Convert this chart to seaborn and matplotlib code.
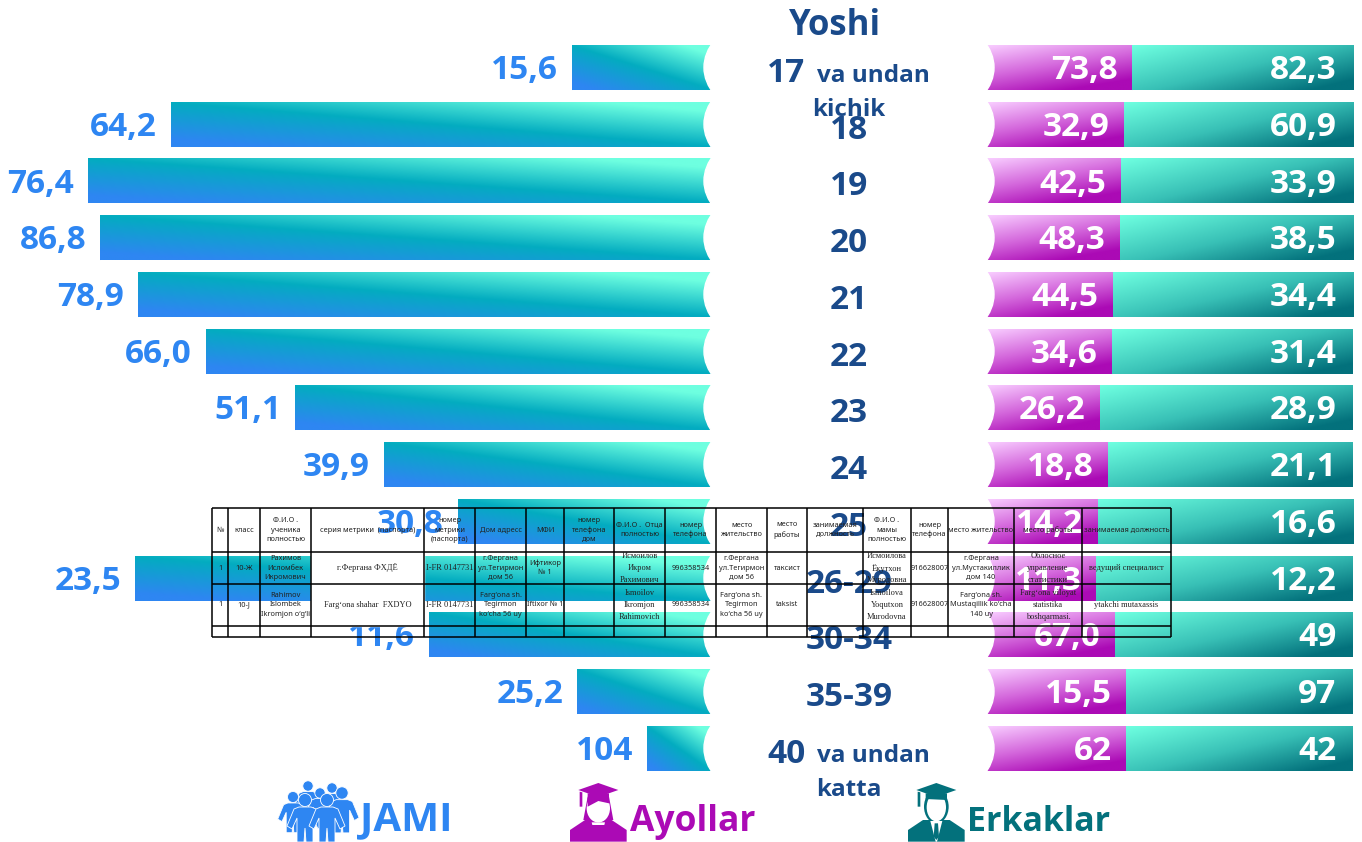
import numpy as np
import matplotlib
matplotlib.use('Agg')
from matplotlib import pyplot as plt
from matplotlib.colors import LinearSegmentedColormap
from matplotlib.patches import Ellipse, Rectangle, Polygon, Circle
import seaborn as sns

yosh = ['17', '18', '19', '20', '21', '22', '23', '24', '25', '26-29', '30-34', '35-39', '40']
jami_bar = [17.0, 65.9, 76.0, 74.5, 69.9, 61.6, 50.7, 39.9, 30.9, 70.2, 34.4, 16.3, 7.8]
jami_lbl = ['15,6', '64,2', '76,4', '86,8', '78,9', '66,0', '51,1', '39,9', '30,8', '23,5', '11,6', '25,2', '104']
ayol_bar = [39.6, 37.4, 36.6, 36.3, 34.4, 34.2, 30.9, 33.1, 30.3, 29.8, 35.0, 38.0, 38.0]
ayol_lbl = ['73,8', '32,9', '42,5', '48,3', '44,5', '34,6', '26,2', '18,8', '14,2', '11,3', '67,0', '15,5', '62']
erkak_lbl = ['82,3', '60,9', '33,9', '38,5', '34,4', '31,4', '28,9', '21,1', '16,6', '12,2', '49', '97', '42']

header = ['№', 'класс', 'Ф.И.О .\nученика\nполностью', 'серия метрики  (паспорта)', 'номер\nметрики\n(паспорта)',
          'Дом адресс', 'МФИ', 'номер\nтелефона\nдом', 'Ф.И.О .  Отца\nполностью', 'номер\nтелефона',
          'место\nжительство', 'место\nработы', 'занимаемая\nдолжность', 'Ф.И.О .\nмамы\nполностью', 'номер\nтелефона',
          'место жительство', 'место работы', 'занимаемая должность']
row_kir = ['1', '10-Ж', 'Рахимов\nИсломбек\nИкромович', 'г.Фергана ФХДЁ', 'I-FR 0147731',
           'г.Фергана\nул.Тегирмон\nдом 56', 'Ифтикор\n№ 1', '', 'Исмоилов\nИкром\nРахимович', '996358534',
           'г.Фергана\nул.Тегирмон\nдом 56', 'таксист', '', 'Исмоилова\nЁқутхон\nМуродовна', '916628007',
           'г.Фергана\nул.Мустакиллик\nдом 140', 'Облосное\nуправление\nстатистики', 'ведущий специалист']
row_lat = ['1', '10-J', 'Rahimov\nIslombek\nIkromjon o‘g‘li', 'Farg‘ona shahar  FXDYO', 'I-FR 0147731',
           'Farg‘ona sh.\nTegirmon\nko‘cha 56 uy', 'Iftixor № 1', '', 'Ismoilov\nIkromjon\nRahimovich', '996358534',
           'Farg‘ona sh.\nTegirmon\nko‘cha 56 uy', 'taksist', '', 'Ismoilova\nYoqutxon\nMurodovna', '916628007',
           'Farg‘ona sh.\nMustaqillik ko‘cha\n140 uy', 'Farg‘ona viloyat\nstatistika\nboshqarmasi.', 'ytakchi mutaxassis']
serif_cols = [3, 4, 8, 13, 16, 17]
col_x = [212, 228, 260, 311, 424, 475, 526, 564, 614, 665, 716, 767, 807, 863, 911, 948, 1014, 1082, 1171]
row_y = [508, 552, 584, 626, 637]

W, H = 1362, 842
row0, pitch, bar_h = 67.5, 56.73, 45
blue, purple, teal, navy = '#2e86f2', '#ab0ab5', '#03717c', '#1a4a8a'

sns.set_theme(style='white')
plt.rcParams['font.family'] = ['Open Sans', 'DejaVu Sans']

cm_jami = LinearSegmentedColormap.from_list('j', [(0, blue), (.08, blue), (.5, '#03acc0'), (.9, '#6effe0'), (1, '#6effe0')])
cm_ayol = LinearSegmentedColormap.from_list('a', [(0, '#f8ccff'), (.45, '#d468dc'), (.85, purple), (1, purple)])
cm_erk = LinearSegmentedColormap.from_list('e', [(0, '#6effe0'), (.5, '#38c0b6'), (.9, teal), (1, teal)])


def paint(ax, patches, cmap, flip=False, wu=.5):
    # put a tilted gradient over each bar, wu is the share of the horizontal part
    u, v = np.meshgrid(np.linspace(0, 1, 200), np.linspace(0, 1, 40))
    z = wu * u + (1 - wu) * (1 - v) if flip else wu * u + (1 - wu) * v
    for p in patches:
        x0, x1 = p.get_x(), p.get_x() + p.get_width()
        y0, y1 = p.get_y(), p.get_y() + p.get_height()
        ext = (x1, x0, y1, y0) if flip else (x0, x1, y1, y0)
        ax.imshow(z, extent=ext, cmap=cmap, vmin=0, vmax=1, aspect='auto', zorder=3, interpolation='bilinear')


fig = plt.figure(figsize=(W / 100, H / 100), dpi=100)
ax_l = fig.add_axes([0, 0, 711 / W, 1])
ax_r = fig.add_axes([987 / W, 0, 366 / W, 1])
ov = fig.add_axes([0, 0, 1, 1])

sns.barplot(x=jami_bar, y=yosh, orient='h', color=blue, width=bar_h / pitch, ax=ax_l)
paint(ax_l, list(ax_l.patches), cm_jami, flip=True)

erkak_bar = [100 - a for a in ayol_bar]
sns.barplot(x=ayol_bar, y=yosh, orient='h', color=purple, width=bar_h / pitch, ax=ax_r)
pink = list(ax_r.patches)
sns.barplot(x=erkak_bar, y=yosh, orient='h', color=teal, width=bar_h / pitch, left=ayol_bar, ax=ax_r)
green = [p for p in ax_r.patches if p not in pink]
paint(ax_r, pink, cm_ayol, wu=.35)
paint(ax_r, green, cm_erk, wu=.55)

ylim = ((H - row0) / pitch, -row0 / pitch)
ax_l.set_xlim(711 / 8.2, 0)
ax_r.set_xlim(0, 100)
for a in (ax_l, ax_r):
    a.set_ylim(*ylim)
    a.axis('off')

lab = dict(fontsize=24, fontweight='bold', va='center', ha='right', textcoords='offset points', zorder=5)
for i in range(len(yosh)):
    ax_l.annotate(jami_lbl[i], (jami_bar[i], i), xytext=(-10, -2.2), color=blue, **lab)
    ax_r.annotate(ayol_lbl[i], (ayol_bar[i], i), xytext=(-10.5, -2.2), color='white', **lab)
    ax_r.annotate(erkak_lbl[i], (100, i), xytext=(-12, -2.2), color='white', **lab)

ov.set_xlim(0, W)
ov.set_ylim(H, 0)
ov.axis('off')
ov.patch.set_alpha(0)

# white bites between the bars and the age column
for i in range(len(yosh)):
    y = row0 + pitch * i
    e = Ellipse((849, y), 290, 146, color='white', zorder=2)
    ov.add_patch(e)
    e.set_clip_path(Rectangle((690, y - 24), 320, 48, transform=ov.transData))

mid = dict(color=navy, fontweight='bold', va='center', ha='center', zorder=3)
ov.text(835, 26, 'Yoshi', fontsize=25, **mid)
for i, s in enumerate(yosh):
    y = row0 + pitch * i
    if s in ('17', '40'):
        ov.text(786, y + 6, s, fontsize=24, **mid)
        ov.text(873, y + 8, 'va undan', fontsize=17.5, **mid)
        ov.text(849, y + (43 if s == '17' else 42), 'kichik' if s == '17' else 'katta', fontsize=17.5, **mid)
    else:
        ov.text(849, y + 6, s, fontsize=24, **mid)

# table pasted on top of the chart, only one cell has a fill
ov.add_patch(Rectangle((col_x[3], row_y[1]), col_x[4] - col_x[3], row_y[3] - row_y[1], color='white', zorder=6))
ov.vlines(col_x, row_y[0], row_y[-1], color='black', lw=1.1, zorder=8)
ov.hlines(row_y, col_x[0], col_x[-1], color='black', lw=1.1, zorder=8)
for n, cells in enumerate([header, row_kir, row_lat]):
    yc = [530, 568, 605][n]
    for c, txt in enumerate(cells):
        serif = n > 0 and c in serif_cols
        fam = ['Liberation Serif', 'DejaVu Sans'] if serif else ['Noto Sans', 'DejaVu Sans']
        ov.text((col_x[c] + col_x[c + 1]) / 2, yc, txt, fontsize=6.0 if serif else 5.3, family=fam, color='#222222',
                ha='center', va='center', linespacing=1.6 if serif else 1.45, zorder=9)


def person(cx, cy, s, color):
    shape = [(-6, 7), (6, 7), (11, 9), (18, 26), (13, 29), (8, 18), (8, 42), (1, 42), (0, 28),
             (-1, 42), (-8, 42), (-8, 18), (-13, 29), (-18, 26), (-11, 9)]
    ov.add_patch(Polygon([(cx + a * s, cy + b * s) for a, b in shape], fc=color, ec='white', lw=0.6, zorder=3))
    ov.add_patch(Circle((cx, cy), 6.5 * s, fc=color, ec='white', lw=0.6, zorder=3))


for cx, cy, s in [(308, 786, .8), (332, 788, .8), (320, 793, .8), (293, 797, .85), (342, 793, .95), (305, 800, 1), (327, 800, 1)]:
    person(cx, cy, s, blue)


def graduate(ox, oy, color, woman):
    # shapes are in zoomed units, three per pixel
    def P(pts, fc, z=3):
        ov.add_patch(Polygon([(ox + a / 3, oy + b / 3) for a, b in pts], fc=fc, ec='none', zorder=z))
    P([(15, 200), (15, 165), (60, 135), (140, 135), (185, 165), (185, 200)], color)
    if woman:
        P([(68, 65), (132, 65), (145, 135), (55, 135)], color)
        ov.add_patch(Ellipse((ox + 100 / 3, oy + 100 / 3), 70 / 3, 85 / 3, fc='white', ec='none', zorder=3))
        P([(68, 70), (132, 70), (132, 85), (100, 78), (68, 95)], color)
        P([(80, 142), (120, 142), (118, 150), (82, 150)], 'white')
    else:
        ov.add_patch(Ellipse((ox + 100 / 3, oy + 95 / 3), 74 / 3, 100 / 3, fc=color, ec='none', zorder=3))
        ov.add_patch(Ellipse((ox + 100 / 3, oy + 97 / 3), 58 / 3, 84 / 3, fc='white', ec='none', zorder=3))
        P([(82, 138), (118, 138), (102, 200), (98, 200)], 'white')
        P([(95, 145), (105, 145), (108, 185), (100, 195), (92, 185)], color)
    P([(68, 55), (132, 55), (132, 75), (68, 72)], color)
    P([(40, 45), (100, 24), (160, 45), (100, 66)], color)
    P([(44, 50), (52, 52), (52, 95), (44, 95)], color)


graduate(565, 775, purple, True)
graduate(903, 775, teal, False)

leg = dict(fontweight='bold', va='center', ha='left')
ov.text(360, 820, 'JAMI', color=blue, fontsize=29, **leg)
ov.text(630, 822, 'Ayollar', color=purple, fontsize=25.5, **leg)
ov.text(967, 822, 'Erkaklar', color=teal, fontsize=24.5, **leg)

fig.savefig('out.png', dpi=100)
